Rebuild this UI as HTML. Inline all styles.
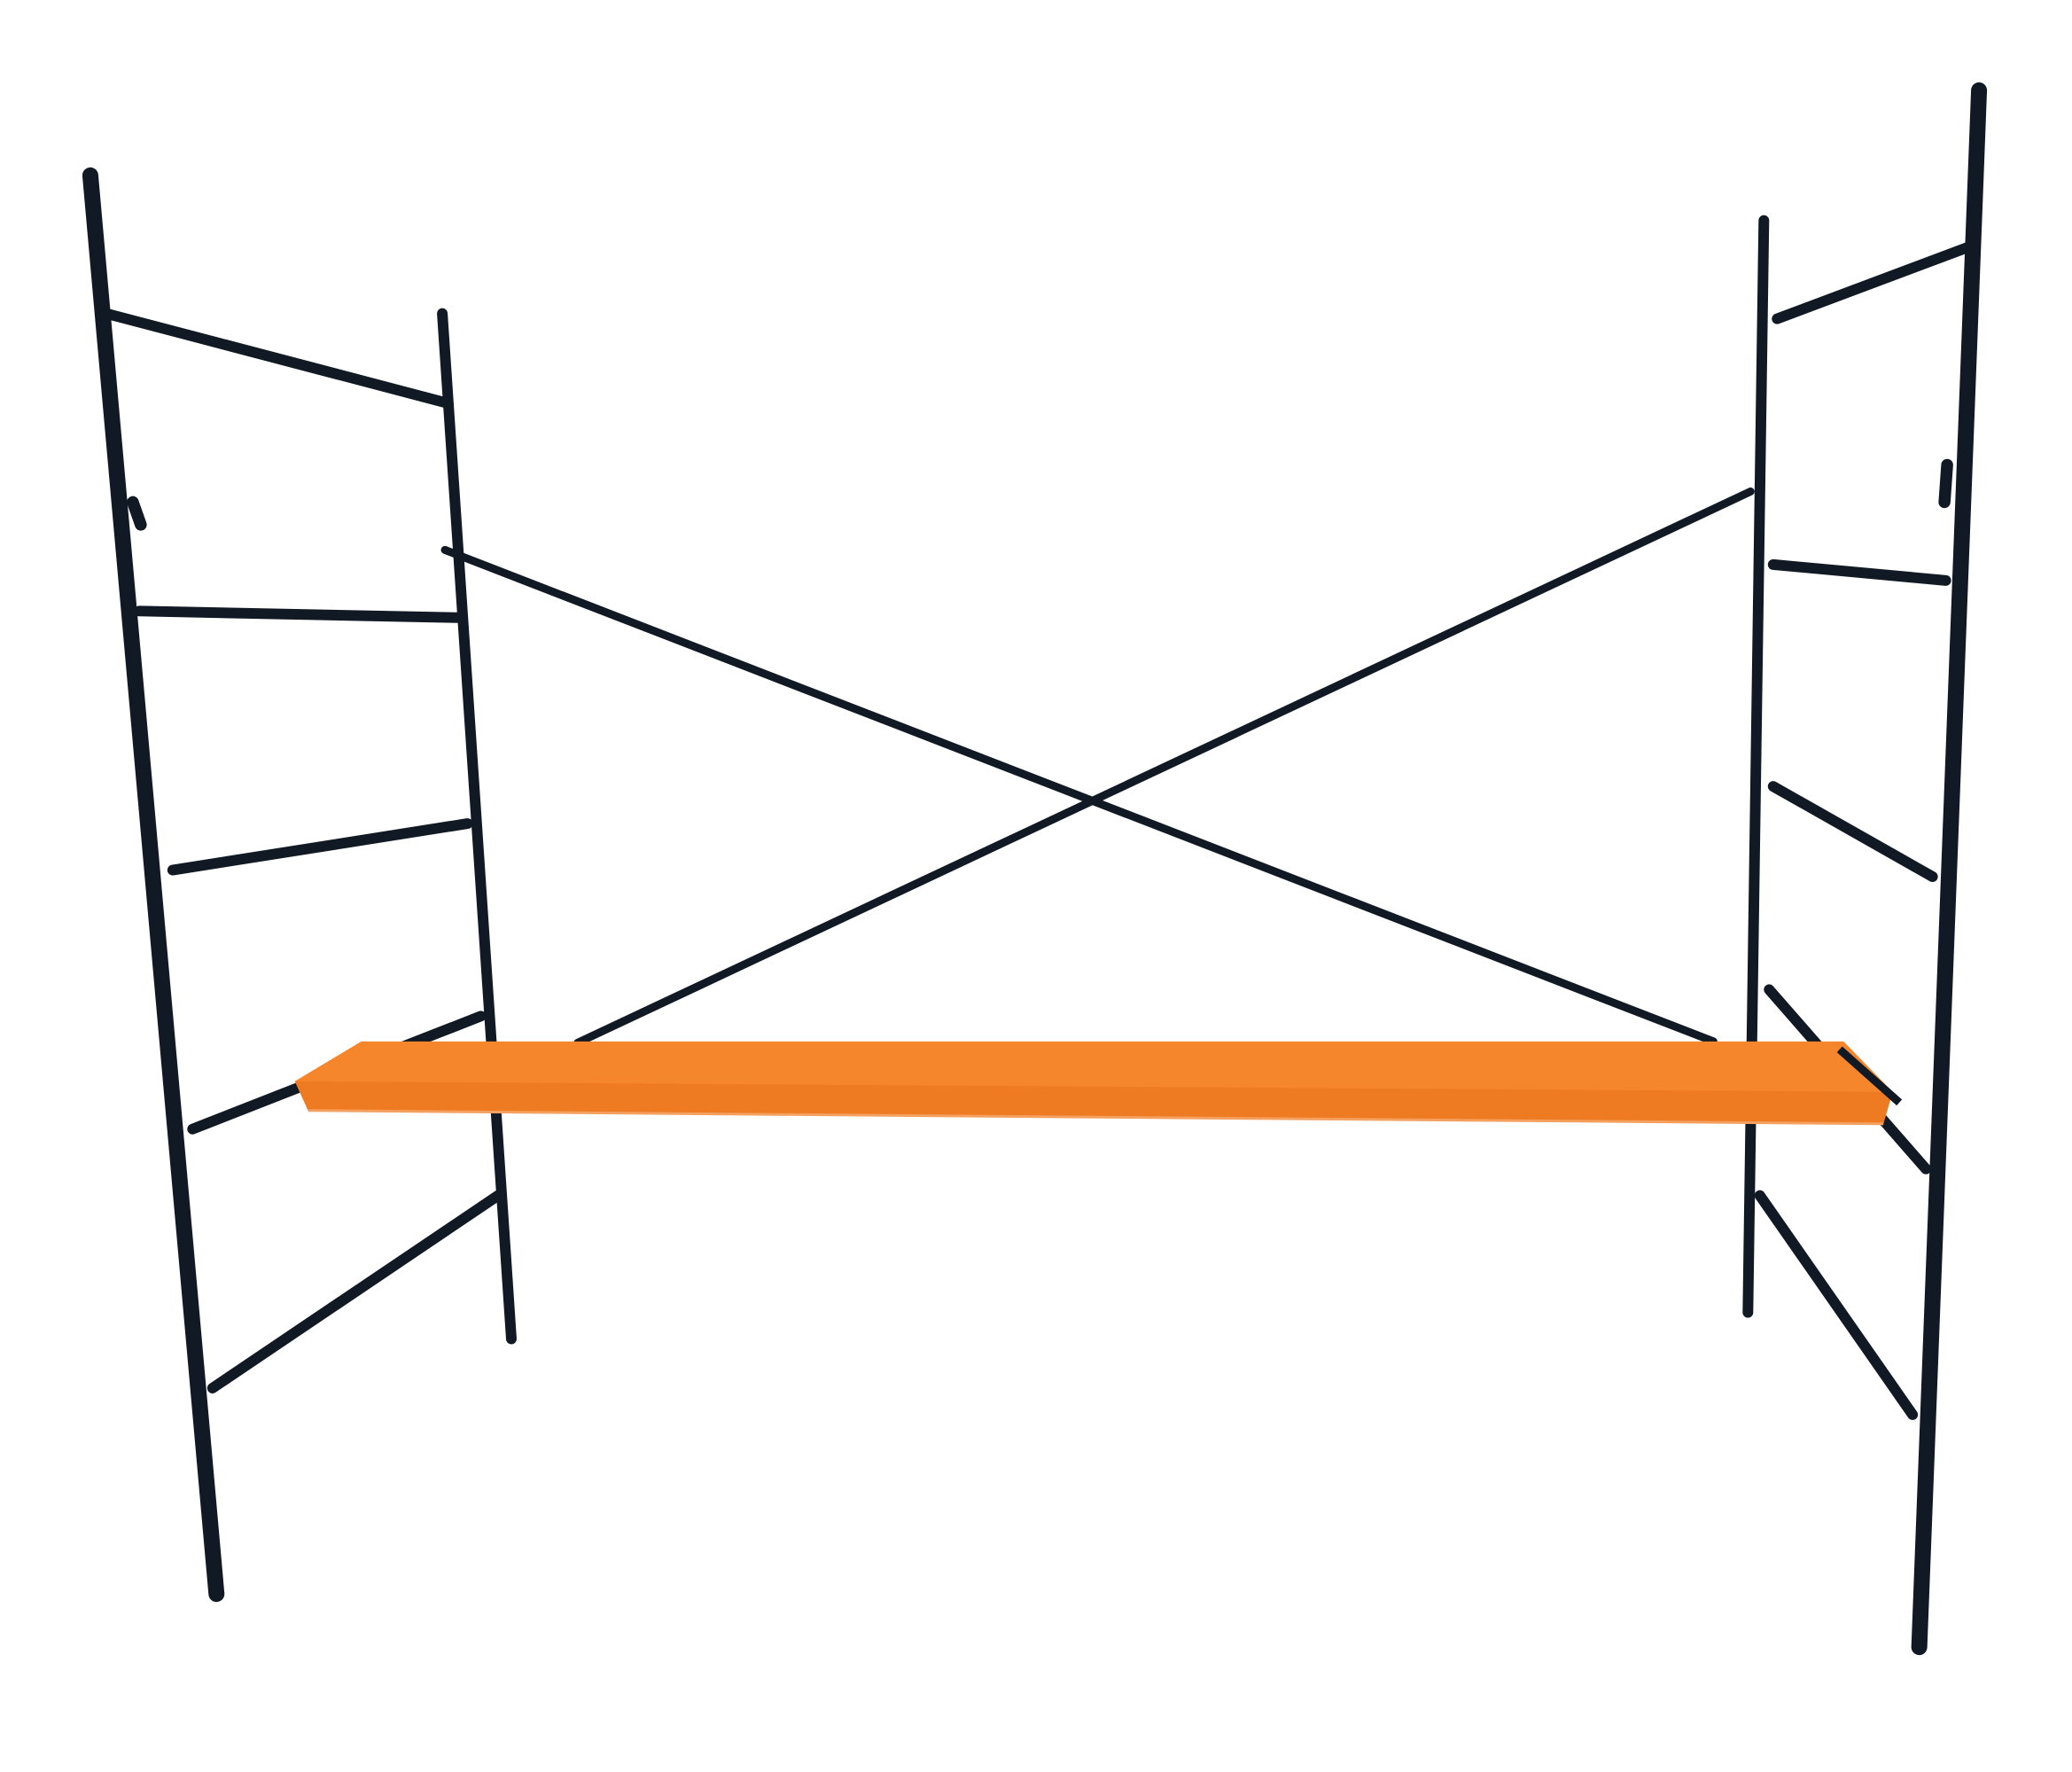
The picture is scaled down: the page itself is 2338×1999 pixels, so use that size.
<!DOCTYPE html>
<html><head><meta charset="utf-8"><style>
html,body{margin:0;padding:0;background:#fff;}
svg{display:block;}
</style></head><body>
<svg width="2338" height="1999" viewBox="0 0 1560 1334" preserveAspectRatio="none" xmlns="http://www.w3.org/2000/svg">
<g stroke="#111a24" stroke-linecap="round" fill="none">
<!-- left frame -->
<line x1="68" y1="132" x2="163" y2="1200" stroke-width="12"/>
<line x1="333" y1="236" x2="385" y2="1008" stroke-width="8"/>
<line x1="80" y1="236" x2="335" y2="303" stroke-width="8"/>
<line x1="105" y1="460" x2="345" y2="465" stroke-width="8"/>
<line x1="130" y1="655" x2="352" y2="620" stroke-width="8"/>
<line x1="145" y1="850" x2="362" y2="765" stroke-width="8"/>
<line x1="160" y1="1045" x2="375" y2="900" stroke-width="8"/>
<line x1="100" y1="378" x2="106" y2="395" stroke-width="9"/>
<!-- right frame -->
<line x1="1490" y1="68" x2="1445" y2="1240" stroke-width="12"/>
<line x1="1328" y1="166" x2="1316" y2="988" stroke-width="8"/>
<line x1="1338" y1="240" x2="1482" y2="186" stroke-width="8"/>
<line x1="1335" y1="425" x2="1465" y2="437" stroke-width="8"/>
<line x1="1335" y1="592" x2="1455" y2="660" stroke-width="8"/>
<line x1="1332" y1="745" x2="1450" y2="880" stroke-width="8"/>
<line x1="1325" y1="900" x2="1440" y2="1065" stroke-width="8"/>
<line x1="1466" y1="350" x2="1464" y2="378" stroke-width="9"/>
<!-- cross braces -->
<line x1="335" y1="414" x2="1290" y2="784" stroke-width="6"/>
<line x1="1318" y1="370" x2="435" y2="785" stroke-width="6"/>
</g>
<!-- plank -->
<polygon points="272,784 1388,784 1425,822 1418,846 232,836 222,814" fill="#f6862c"/>
<polygon points="222,814 1425,822 1418,846 232,836" fill="#ee7a22"/>
<line x1="232" y1="836" x2="1418" y2="846" stroke="#f4a060" stroke-width="2"/>
<line x1="1385" y1="790" x2="1430" y2="830" stroke="#111a24" stroke-width="6"/>
</svg>
</body></html>
